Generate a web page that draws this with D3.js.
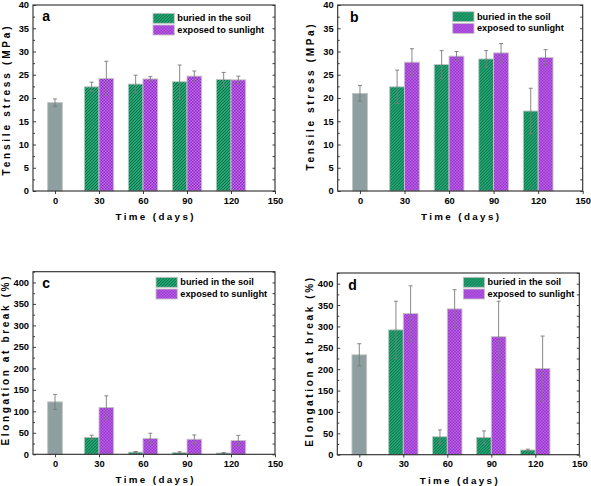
<!DOCTYPE html>
<html><head><meta charset="utf-8">
<script src="https://cdn.jsdelivr.net/npm/d3@7"></script>
<style>
body{margin:0;background:#fff}
svg{display:block}
text{font-family:"Liberation Sans",Arial,sans-serif;font-weight:bold;fill:#000}
</style>
</head><body><svg id="chart" width="591" height="486"></svg>
<script>
// ---------------- data ----------------
const timeTicks = [0, 30, 60, 90, 120, 150];
const treatDays = [30, 60, 90, 120];
const seriesNames = ["buried in the soil", "exposed to sunlight"];
const stressTicks = [0, 5, 10, 15, 20, 25, 30, 35, 40];
const elongTicks = [0, 50, 100, 150, 200, 250, 300, 350, 400];
const stressLabel = "Tensile stress (MPa)";
const elongLabel = "Elongation at break (%)";
const timeLabel = "Time (days)";

// panel a – tensile stress
const ctrlA = 19.0, ctrlErrA = 0.8;
const soilA = [22.4, 23.0, 23.5, 24.0];
const soilErrA = [1.0, 1.9, 3.6, 1.5];
const sunA = [24.2, 24.1, 24.7, 23.9];
const sunErrA = [3.7, 0.5, 1.1, 0.8];

// panel b – tensile stress
const ctrlB = 21.0, ctrlErrB = 1.7;
const soilB = [22.4, 27.2, 28.4, 17.2];
const soilErrB = [3.6, 3.0, 1.8, 4.9];
const sunB = [27.7, 29.0, 29.7, 28.7];
const sunErrB = [2.9, 1.0, 2.0, 1.7];

// panel c – elongation at break
const ctrlC = 122, ctrlErrC = 17.5;
const soilC = [39.5, 5, 4, 3];
const soilErrC = [5, 1.5, 2, 1];
const sunC = [109, 37, 35, 32];
const sunErrC = [27, 12, 10, 12];

// panel d – elongation at break
const ctrlD = 233.6, ctrlErrD = 26;
const soilD = [292, 42, 40.6, 11];
const soilErrD = [67, 16, 15, 2];
const sunD = [330, 341, 276, 201.5];
const sunErrD = [65, 45, 83, 76];

// ---------------- layout ----------------
const panels = [
  {id:"a", x0:33, x1:275, y0:5, y1:191, ymax:40, ticks:stressTicks, minor:2.5, ylab:stressLabel,
   ctrl:ctrlA, ctrlErr:ctrlErrA, soil:soilA, soilErr:soilErrA, sun:sunA, sunErr:sunErrA,
   leg:{x:153, y:13.3}, ylabX:9.7, ylabC:101, ylabL:149, xlabC:154.5},
  {id:"b", x0:337.7, x1:582.7, y0:5, y1:191, ymax:40, ticks:stressTicks, minor:2.5, ylab:stressLabel,
   ctrl:ctrlB, ctrlErr:ctrlErrB, soil:soilB, soilErr:soilErrB, sun:sunB, sunErr:sunErrB,
   leg:{x:452.7, y:11.7}, ylabX:314.2, ylabC:97.5, ylabL:146, xlabC:460},
  {id:"c", x0:33, x1:275, y0:271.7, y1:454.3, ymax:425, ticks:elongTicks, minor:25, ylab:elongLabel,
   ctrl:ctrlC, ctrlErr:ctrlErrC, soil:soilC, soilErr:soilErrC, sun:sunC, sunErr:sunErrC,
   leg:{x:156, y:277.3}, ylabX:8.8, ylabC:361, ylabL:169, xlabC:154.5},
  {id:"d", x0:337.3, x1:579.3, y0:273, y1:454.7, ymax:425, ticks:elongTicks, minor:25, ylab:elongLabel,
   ctrl:ctrlD, ctrlErr:ctrlErrD, soil:soilD, soilErr:soilErrD, sun:sunD, sunErr:sunErrD,
   leg:{x:463.3, y:277.3}, ylabX:312.9, ylabC:362.3, ylabL:169, xlabC:458.7}
];

const svg = d3.select("#chart");
const defs = svg.append("defs");

// green diagonal hatch
const pg = defs.append("pattern").attr("id","hatch").attr("patternUnits","userSpaceOnUse")
  .attr("width",3).attr("height",3);
pg.append("rect").attr("width",3).attr("height",3).attr("fill","#22a874");
pg.append("path").attr("d","M-1,1 L1,-1 M0,3 L3,0 M2,4 L4,2")
  .attr("stroke","#0c6443").attr("stroke-width",0.9);

// purple checker
const pp = defs.append("pattern").attr("id","checker").attr("patternUnits","userSpaceOnUse")
  .attr("width",3).attr("height",3);
pp.append("rect").attr("width",3).attr("height",3).attr("fill","#c96af6");
pp.append("rect").attr("width",1.5).attr("height",1.5).attr("fill","#8a2cbd");
pp.append("rect").attr("x",1.5).attr("y",1.5).attr("width",1.5).attr("height",1.5).attr("fill","#8a2cbd");

const ctrlFill = "#8d9fa0";
const edge = "#c4c4c4";
const errColor = "#7a7a7a";
const axisColor = "#2a2a2a";

panels.forEach(p => {
  const w = p.x1 - p.x0, h = p.y1 - p.y0;
  const g = svg.append("g").attr("transform", `translate(${p.x0},${p.y0})`);
  const x = d3.scaleLinear().domain([-15, 150]).range([0, w]);
  const y = d3.scaleLinear().domain([0, p.ymax]).range([h, 0]);
  const barW = 10;

  const bars = [];
  bars.push({d0:-barW/2, d1:barW/2, v:p.ctrl, e:p.ctrlErr, fill:ctrlFill});
  treatDays.forEach((d,i) => {
    bars.push({d0:d-barW, d1:d, v:p.soil[i], e:p.soilErr[i], fill:"url(#hatch)"});
    bars.push({d0:d, d1:d+barW, v:p.sun[i], e:p.sunErr[i], fill:"url(#checker)"});
  });

  g.selectAll("rect.bar").data(bars).join("rect").attr("class","bar")
    .attr("x", b => x(b.d0)).attr("width", b => x(b.d1) - x(b.d0))
    .attr("y", b => y(b.v)).attr("height", b => y(0) - y(b.v))
    .attr("fill", b => b.fill).attr("stroke", edge).attr("stroke-width", 0.9);

  const eb = g.selectAll("g.err").data(bars).join("g").attr("class","err")
    .attr("stroke", errColor).attr("stroke-width", 0.9);
  eb.append("line")
    .attr("x1", b => x((b.d0+b.d1)/2)).attr("x2", b => x((b.d0+b.d1)/2))
    .attr("y1", b => y(b.v + b.e)).attr("y2", b => y(Math.max(0, b.v - b.e)));
  eb.append("line")
    .attr("x1", b => x((b.d0+b.d1)/2) - 2).attr("x2", b => x((b.d0+b.d1)/2) + 2)
    .attr("y1", b => y(b.v + b.e)).attr("y2", b => y(b.v + b.e));
  eb.append("line")
    .attr("x1", b => x((b.d0+b.d1)/2) - 2).attr("x2", b => x((b.d0+b.d1)/2) + 2)
    .attr("y1", b => y(Math.max(0, b.v - b.e))).attr("y2", b => y(Math.max(0, b.v - b.e)));

  // axes
  const minorVals = d3.range(0, p.ymax + 0.001, p.minor).filter(v => !p.ticks.includes(v));
  const allY = d3.range(0, p.ymax + 0.001, p.minor);

  const yAx = g.append("g").call(d3.axisLeft(y).tickValues(p.ticks).tickSize(-3).tickSizeOuter(0).tickPadding(4));
  yAx.selectAll("text").style("font-size","9.3px");
  const yMin = g.append("g").call(d3.axisLeft(y).tickValues(minorVals).tickSize(-2).tickSizeOuter(0).tickFormat(""));
  const yR = g.append("g").attr("transform",`translate(${w},0)`)
    .call(d3.axisRight(y).tickValues(allY).tickSize(-2.5).tickSizeOuter(0).tickFormat(""));
  const xAx = g.append("g").attr("transform",`translate(0,${h})`)
    .call(d3.axisBottom(x).tickValues(timeTicks).tickSize(3).tickSizeOuter(0).tickPadding(3));
  xAx.selectAll("text").style("font-size","9.3px");
  [yAx, yMin, yR, xAx].forEach(a => {
    a.select(".domain").remove();
    a.selectAll("line").attr("stroke", axisColor).attr("stroke-width", 0.9);
  });

  g.append("rect").attr("width", w).attr("height", h).attr("fill","none")
    .attr("stroke", axisColor).attr("stroke-width", 1.1);

  // panel letter
  const letterX = {a:42.3, b:350, c:42.3, d:348.3}[p.id];
  const letterY = {a:20.7, b:21.7, c:287.7, d:290}[p.id];
  svg.append("text").attr("x", letterX).attr("y", letterY).style("font-size","14px").text(p.id);

  // legend
  const lg = svg.append("g").attr("transform", `translate(${p.leg.x},${p.leg.y})`);
  ["url(#hatch)","url(#checker)"].forEach((f,i) => {
    lg.append("rect").attr("x",0).attr("y", i*11.7).attr("width",21.3).attr("height",10)
      .attr("fill", f).attr("stroke", edge).attr("stroke-width",0.9);
    lg.append("text").attr("x", 24.3).attr("y", i*11.7 + 7.9).style("font-size","9.2px").text(seriesNames[i]);
  });

  // axis labels
  svg.append("text").attr("transform", `translate(${p.ylabX},${p.ylabC}) rotate(-90)`)
    .attr("text-anchor","middle").style("font-size","10px")
    .attr("textLength", p.ylabL).attr("lengthAdjust","spacing").text(p.ylab);
  svg.append("text").attr("x", p.xlabC).attr("y", p.y1 + 29)
    .attr("text-anchor","middle").style("font-size","9.8px")
    .attr("textLength", 78).attr("lengthAdjust","spacing").text(timeLabel);
});
</script>
</body></html>
